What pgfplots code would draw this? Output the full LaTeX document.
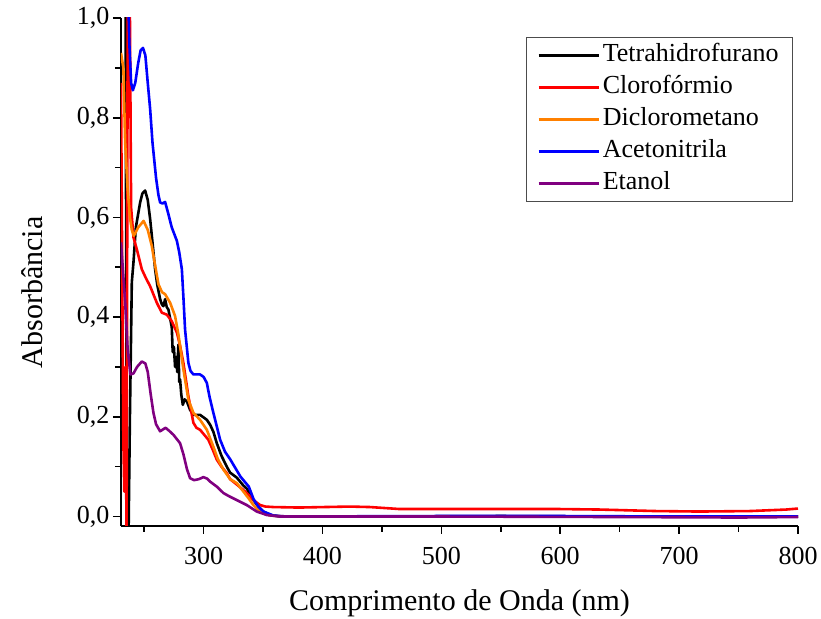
\documentclass[border=0pt]{standalone}
\usepackage{fontspec}
\setmainfont{Liberation Serif}
\usepackage{pgfplots}
\pgfplotsset{compat=1.18}
\definecolor{corange}{RGB}{255,128,0}
\definecolor{cpurple}{RGB}{128,0,128}
\begin{document}
\begin{tikzpicture}
\begin{axis}[
  scale only axis,
  width=677pt, height=508pt,
  xmin=230.5, xmax=800, ymin=-0.019, ymax=1.0,
  axis lines*=left,
  axis line style={line width=1.6pt},
  every tick/.style={line width=1.6pt, black},
  tick align=outside,
  major tick length=8pt, minor tick length=6pt,
  xtick={300,400,500,600,700,800},
  minor xtick={250,350,450,550,650,750},
  ytick={0,0.2,0.4,0.6,0.8,1.0},
  minor ytick={0.1,0.3,0.5,0.7,0.9},
  /pgf/number format/assume math mode=true,
  ticklabel style={font=\fontsize{26}{26}\selectfont},
  yticklabel style={/pgf/number format/.cd, use comma, fixed, fixed zerofill, precision=1},
  xticklabel style={yshift=-10pt, /pgf/number format/.cd, fixed, precision=0},
  xlabel={Comprimento de Onda (nm)},
  ylabel={Absorbância},
  label style={font=\fontsize{30}{30}\selectfont},
  xlabel style={at={(axis description cs:0.5,-0.1516)}, anchor=center},
  ylabel style={at={(axis description cs:-0.131,0.46)}, anchor=center},
  legend cell align=left,
  legend style={at={(0.9926,0.9626)}, anchor=north east,
    draw=black!70, line width=0.8pt, fill=white,
    font=\fontsize{26}{26}\selectfont,
    inner xsep=11pt, inner ysep=2pt,
    nodes={text height=17pt, text depth=5pt, inner ysep=5pt, inner xsep=3pt}},
  legend image code/.code={\draw[#1] (0pt,0pt) -- (60pt,0pt);},
  every axis plot/.append style={line width=2.6pt, line join=round},
]
% Tetrahidrofurano
\addplot[black] coordinates {
(230.5,1.2) (234.3,1.2) (235.3,-0.05) (236.8,-0.05) (238,0.2) (239.6,0.47) (241,0.51)
(243,0.58) (246.6,0.63) (248.5,0.648) (250.8,0.654) (253,0.635) (255,0.597) (257,0.55)
(259.2,0.496) (261,0.465) (263.4,0.436) (265,0.425) (266.2,0.422) (267.6,0.436) (269,0.42)
(270.4,0.415) (272,0.395) (273.2,0.38) (274,0.33) (275,0.34) (276,0.30) (277,0.32) (277.8,0.29)
(278.8,0.345) (279.5,0.27) (280.2,0.275) (281.2,0.245) (282.5,0.224) (284,0.235) (285.9,0.231)
(288.6,0.214) (291.4,0.204) (297,0.204) (302.7,0.194) (305.5,0.184) (308.2,0.170) (311.1,0.147)
(315,0.122) (319.5,0.100) (322.3,0.088) (327.9,0.078) (333.5,0.062) (336.3,0.056) (339,0.045)
(341.9,0.033) (346,0.02) (350.3,0.010) (356,0.003) (365,0.0) (450,0.0) (550,0.001)
(650,0.0) (750,0.0) (800,0.0)
};
\addlegendentry{Tetrahidrofurano}
% Cloroformio
\addplot[red] coordinates {
(230.5,0.87) (231.5,0.5) (232.5,0.15) (233.3,0.05) (234.2,0.3) (235.2,-0.05) (236.3,1.2)
(237.5,1.2) (239,0.62) (241,0.56) (243.8,0.536) (248,0.496) (251.5,0.478) (255,0.462)
(260.6,0.429) (264.8,0.409) (269,0.405) (273.2,0.392) (277.5,0.369) (280,0.345) (283,0.308)
(287.2,0.241) (291.4,0.188) (294,0.178) (297,0.174) (304,0.154) (307.5,0.135) (311.1,0.114)
(315,0.100) (319.5,0.087) (322.3,0.075) (327,0.066) (333.5,0.053) (338,0.043) (341.9,0.033)
(347.5,0.023) (352,0.02) (358.7,0.019) (380,0.018) (423,0.020) (440,0.019) (465,0.015)
(500,0.015) (550,0.015) (600,0.015) (633,0.014) (680,0.011) (717,0.010) (760,0.011)
(790,0.014) (800,0.016)
};
\addlegendentry{Clorofórmio}
% Diclorometano
\addplot[corange] coordinates {
(230.5,0.93) (232.5,0.9) (234,0.75) (236,0.66) (238,0.6) (239.6,0.575) (241.3,0.563)
(245,0.58) (249.5,0.593) (253,0.575) (256.4,0.543) (257.8,0.523) (262,0.466) (265,0.45)
(267.6,0.446) (271.8,0.429) (276,0.402) (278.8,0.365) (283,0.295) (287.2,0.234) (291.4,0.208)
(297,0.194) (302.7,0.174) (308.2,0.14) (312,0.115) (316.7,0.094) (322.3,0.075) (327.9,0.067)
(333.5,0.05) (338,0.036) (341.9,0.023) (347.5,0.01) (356,0.002) (370,0.0) (500,0.0)
(650,0.0) (800,0.0)
};
\addlegendentry{Diclorometano}
% Acetonitrila
\addplot[blue] coordinates {
(230.5,1.2) (236,1.1) (237.5,0.95) (239,0.87) (240.5,0.855) (242.5,0.87) (245,0.91)
(247,0.935) (249,0.94) (251,0.925) (253,0.87) (255,0.818) (257,0.75) (260,0.679) (262,0.645)
(263.4,0.630) (265.5,0.628) (267.6,0.631) (270,0.61) (273.2,0.58) (277.5,0.553) (279.5,0.53)
(281.7,0.496) (283,0.44) (284.4,0.375) (287.2,0.308) (289,0.292) (291.4,0.285) (297,0.285)
(300,0.28) (302.7,0.268) (305,0.24) (308.2,0.208) (313.9,0.154) (318,0.13) (322.3,0.115)
(331,0.080) (338,0.060) (342,0.035) (346,0.02) (350.3,0.01) (358.7,0.002) (370,0.0)
(500,0.001) (600,0.001) (700,0.0) (800,0.0)
};
\addlegendentry{Acetonitrila}
% Etanol
\addplot[cpurple] coordinates {
(230.5,0.55) (234,0.43) (236,0.34) (238.4,0.285) (241,0.287) (244,0.30) (248,0.311)
(251,0.307) (253,0.29) (255.5,0.245) (257.8,0.208) (260,0.185) (263.4,0.171) (266,0.175)
(268,0.178) (271,0.172) (274.6,0.164) (280.2,0.147) (283,0.125) (286,0.095) (288.6,0.077)
(292,0.073) (296,0.075) (299.8,0.079) (303,0.076) (305.5,0.070) (311.1,0.060) (316.7,0.047)
(322,0.040) (327.9,0.033) (336.3,0.023) (344.7,0.010) (353.2,0.003) (364,0.0) (500,0.0)
(650,-0.001) (750,-0.002) (800,-0.001)
};
\addlegendentry{Etanol}
\end{axis}
\pgfresetboundingbox
\path (current axis.south west) ++(-121pt,-93pt) coordinate (bbsw);
\path (current axis.north east) ++(23pt,18pt) coordinate (bbne);
\path (bbsw) rectangle (bbne);
\end{tikzpicture}
\end{document}
